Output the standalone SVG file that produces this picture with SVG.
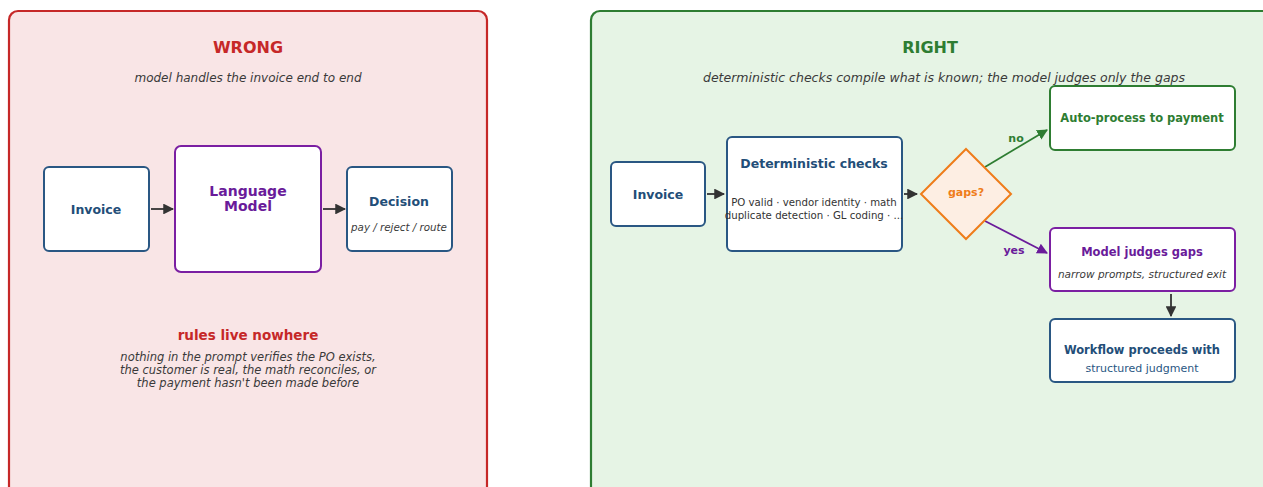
<svg xmlns="http://www.w3.org/2000/svg" width="1263" height="487" viewBox="0 0 1263 487">
<style>
text{font-family:"DejaVu Sans","Liberation Sans",sans-serif;text-anchor:middle}
.node{fill:#fff;stroke-width:2}
.blue{stroke:#2a5783}
.purple{stroke:#7b1fa2}
.green{stroke:#2e7d32}
.tb{font-weight:bold;fill:#234e78}
.tp{font-weight:bold;fill:#6a1b9a}
.sub{font-style:italic;fill:#3a3a3a}
.conn{fill:none;stroke-width:1.8}
</style>
<defs>
<marker id="ad" viewBox="0 0 10 10" refX="9" refY="5" markerWidth="6" markerHeight="6" orient="auto"><path d="M0,0L10,5L0,10z" fill="#333"/></marker>
<marker id="ag" viewBox="0 0 10 10" refX="9" refY="5" markerWidth="6" markerHeight="6" orient="auto"><path d="M0,0L10,5L0,10z" fill="#2e7d32"/></marker>
<marker id="ap" viewBox="0 0 10 10" refX="9" refY="5" markerWidth="6" markerHeight="6" orient="auto"><path d="M0,0L10,5L0,10z" fill="#6a1b9a"/></marker>
</defs>
<g id="panel-wrong">
<rect x="9" y="11" width="478" height="490" rx="9" fill="#f9e5e6" stroke="#c62828" stroke-width="2.2"/>
<text x="248" y="53" font-size="16" font-weight="bold" fill="#c62828">WRONG</text>
<text x="248" y="82" font-size="12" class="sub">model handles the invoice end to end</text>
<text x="248" y="340" font-size="13.5" font-weight="bold" fill="#c62828">rules live nowhere</text>
<text x="248" y="361" font-size="11.5" class="sub">nothing in the prompt verifies the PO exists,</text>
<text x="248" y="374" font-size="11.5" class="sub">the customer is real, the math reconciles, or</text>
<text x="248" y="387" font-size="11.5" class="sub">the payment hasn't been made before</text>
</g>
<g id="panel-right">
<rect x="591" y="11" width="690" height="490" rx="9" fill="#e6f4e5" stroke="#2e7d32" stroke-width="2.2"/>
<text x="930" y="53" font-size="16" font-weight="bold" fill="#2e7d32">RIGHT</text>
<text x="944" y="82" font-size="12.5" class="sub">deterministic checks compile what is known; the model judges only the gaps</text>
</g>
<g id="connectors">
<line class="conn" x1="151" y1="209" x2="173" y2="209" stroke="#333" marker-end="url(#ad)"/>
<line class="conn" x1="323" y1="209" x2="345" y2="209" stroke="#333" marker-end="url(#ad)"/>
<line class="conn" x1="707" y1="194" x2="724" y2="194" stroke="#333" marker-end="url(#ad)"/>
<line class="conn" x1="904" y1="194" x2="917" y2="194" stroke="#333" marker-end="url(#ad)"/>
<line class="conn" x1="985" y1="167" x2="1047" y2="130" stroke="#2e7d32" marker-end="url(#ag)"/>
<text x="1016" y="142" font-size="11" font-weight="bold" fill="#2e7d32">no</text>
<line class="conn" x1="985" y1="221" x2="1047" y2="253" stroke="#6a1b9a" marker-end="url(#ap)"/>
<text x="1014" y="254" font-size="11" font-weight="bold" fill="#6a1b9a">yes</text>
<line class="conn" x1="1171" y1="294" x2="1171" y2="316" stroke="#333" marker-end="url(#ad)"/>
</g>
<g id="w-invoice">
<rect class="node blue" x="44" y="167" width="105" height="84" rx="5"/>
<text class="tb" x="96" y="214" font-size="12.5">Invoice</text>
</g>
<g id="w-model">
<rect class="node purple" x="175" y="146" width="146" height="126" rx="6"/>
<text class="tp" x="248" y="196" font-size="14">Language</text>
<text class="tp" x="248" y="211" font-size="14">Model</text>
</g>
<g id="w-decision">
<rect class="node blue" x="347" y="167" width="105" height="84" rx="5"/>
<text class="tb" x="399" y="206" font-size="12.5">Decision</text>
<text class="sub" x="399" y="231" font-size="10.3">pay / reject / route</text>
</g>
<g id="r-invoice">
<rect class="node blue" x="611" y="162" width="94" height="64" rx="5"/>
<text class="tb" x="658" y="199" font-size="12.5">Invoice</text>
</g>
<g id="r-checks">
<rect class="node blue" x="727" y="137" width="175" height="114" rx="5"/>
<text class="tb" x="814" y="168" font-size="12.5">Deterministic checks</text>
<text x="814" y="206" font-size="10.2" fill="#333">PO valid · vendor identity · math</text>
<text x="814" y="219" font-size="10.2" fill="#333">duplicate detection · GL coding · ...</text>
</g>
<g id="r-gaps">
<polygon points="966,149 1011,194 966,239 921,194" fill="#fdeee3" stroke="#ef7c1a" stroke-width="2"/>
<text x="966" y="196" font-size="11" font-weight="bold" fill="#ef7c1a">gaps?</text>
</g>
<g id="r-auto">
<rect class="node green" x="1050" y="86" width="185" height="64" rx="5"/>
<text x="1142" y="122" font-size="11.5" font-weight="bold" fill="#2e7d32">Auto-process to payment</text>
</g>
<g id="r-judge">
<rect class="node purple" x="1050" y="228" width="185" height="63" rx="5"/>
<text class="tp" x="1142" y="256" font-size="11.5">Model judges gaps</text>
<text class="sub" x="1142" y="278" font-size="10.5">narrow prompts, structured exit</text>
</g>
<g id="r-workflow">
<rect class="node blue" x="1050" y="319" width="185" height="63" rx="5"/>
<text class="tb" x="1142" y="354" font-size="11.5">Workflow proceeds with</text>
<text x="1142" y="372" font-size="11" fill="#2a5783">structured judgment</text>
</g>
</svg>
